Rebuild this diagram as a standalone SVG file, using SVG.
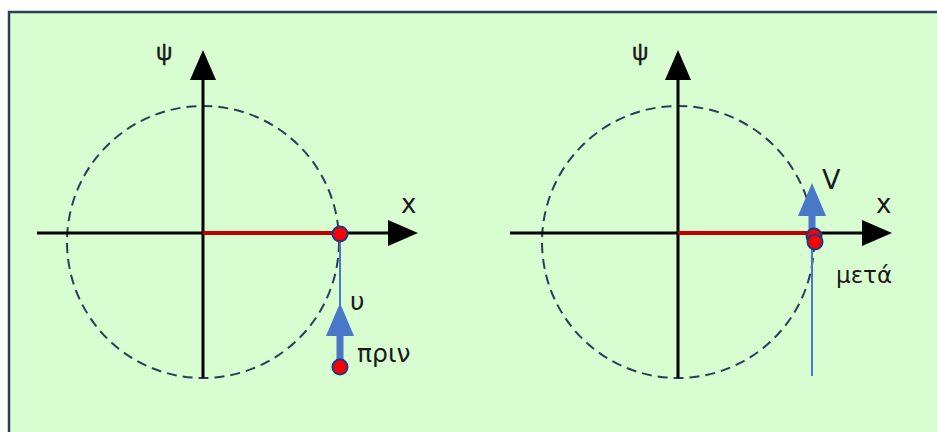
<svg xmlns="http://www.w3.org/2000/svg" width="937" height="432" viewBox="0 0 937 432">
<style>
.ax{stroke:#000;stroke-width:3;fill:none}
.circ{stroke:#2c3e57;stroke-width:2;fill:none;stroke-dasharray:10,6}
.red{stroke:#c00000;stroke-width:4}
.vel{stroke:#4a78c8;stroke-width:2}
.dot{fill:#ff0000;stroke:#1f3a80;stroke-width:2}
.t{font-family:"DejaVu Sans","Liberation Sans",sans-serif;fill:#1a1a1a}
.psi{font-family:"Liberation Sans",Arial,sans-serif;font-size:23px;fill:#1a1a1a;stroke:#1a1a1a;stroke-width:0.4}
</style>
<rect x="0" y="0" width="937" height="432" fill="#ffffff"/>
<rect x="9" y="12" width="940" height="440" fill="#d8fdd0" stroke="#2c3e57" stroke-width="2.5"/>
<g id="left">
<circle class="circ" cx="203" cy="242" r="136"/>
<line class="ax" x1="37" y1="233" x2="392" y2="233"/>
<polygon points="418,233 388,220 388,246" fill="#000"/>
<line class="ax" x1="203" y1="378" x2="203" y2="78"/>
<polygon points="203,50 190,80 216,80" fill="#000"/>
<line class="red" x1="203" y1="233" x2="340" y2="233"/>
<line class="vel" x1="340" y1="234" x2="340" y2="370"/>
<line x1="340" y1="334" x2="340" y2="364" stroke="#4a78c8" stroke-width="7"/>
<polygon points="340,303 326,336 354,336" fill="#4a78c8"/>
<circle class="dot" cx="340" cy="234" r="7.5"/>
<circle class="dot" cx="340" cy="367" r="7.5"/>
<text class="psi" x="156" y="60">ψ</text>
<text class="t" x="401" y="213" font-size="26">x</text>
<text class="t" x="350" y="310" font-size="25">υ</text>
<text class="t" x="357" y="362" font-size="25">πριν</text>
</g>
<g id="right">
<circle class="circ" cx="678" cy="242" r="136"/>
<line class="ax" x1="510" y1="233" x2="866" y2="233"/>
<polygon points="892,233 862,220 862,246" fill="#000"/>
<line class="ax" x1="678" y1="378" x2="678" y2="78"/>
<polygon points="678,50 665,80 691,80" fill="#000"/>
<line class="red" x1="678" y1="233" x2="815" y2="233"/>
<line class="vel" x1="812" y1="212" x2="812" y2="376"/>
<line x1="812" y1="212" x2="812" y2="232" stroke="#4a78c8" stroke-width="7"/>
<polygon points="812,183 798,216 826,216" fill="#4a78c8"/>
<circle class="dot" cx="814" cy="236" r="7.5"/>
<circle class="dot" cx="815" cy="242" r="7.5"/>
<text class="psi" x="632" y="60">ψ</text>
<text class="t" x="876" y="213" font-size="26">x</text>
<text class="t" x="822" y="189" font-size="27">V</text>
<text class="t" x="836" y="283" font-size="23">μετά</text>
</g>
</svg>
